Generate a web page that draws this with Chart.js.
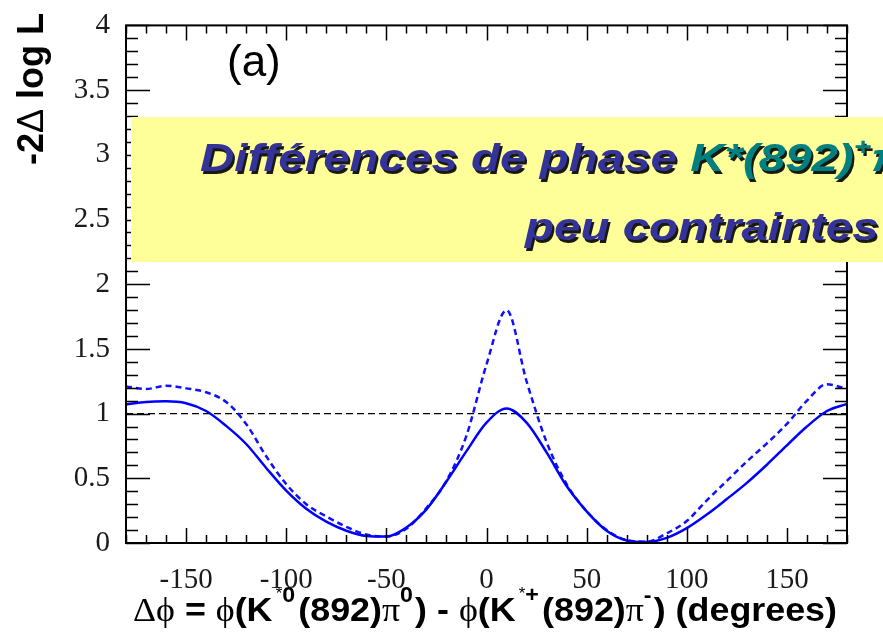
<!DOCTYPE html>
<html>
<head>
<meta charset="utf-8">
<script src="https://cdn.jsdelivr.net/npm/chart.js@4.4.0/dist/chart.umd.min.js"></script>
<style>
  body { margin: 0; background: #fff; }
  #wrap { position: relative; width: 883px; height: 633px; }
</style>
</head>
<body>
<div id="wrap"><canvas id="nllChart"></canvas></div>
<script>
// scan points in delta phi (degrees)
const phiDeg = [-180, -170, -160, -150, -140, -130, -120, -110, -100, -90, -80, -70, -60, -50, -40, -30, -20, -10,
  0, 10, 20, 30, 40, 50, 60, 70, 80, 90, 100, 110, 120, 130, 140, 150, 160, 170, 180];
// -2 delta log L, full curve (solid)
const solidVals = [1.07, 1.09, 1.095, 1.08, 1.02, 0.905, 0.765, 0.58, 0.405, 0.265, 0.165, 0.095, 0.055, 0.05, 0.12, 0.26, 0.475, 0.71,
  0.93, 1.04, 0.93, 0.70, 0.44, 0.245, 0.095, 0.02, 0.008, 0.04, 0.115, 0.22, 0.34, 0.465, 0.605, 0.755, 0.90, 1.02, 1.075];
// -2 delta log L, stat only (dashed)
const dashedVals = [1.21, 1.19, 1.215, 1.195, 1.165, 1.09, 0.92, 0.67, 0.455, 0.30, 0.205, 0.125, 0.065, 0.05, 0.11, 0.27, 0.48, 0.83,
  1.38, 1.80, 1.25, 0.78, 0.455, 0.245, 0.10, 0.022, 0.01, 0.075, 0.17, 0.33, 0.48, 0.63, 0.77, 0.92, 1.10, 1.227, 1.19];
// 1 sigma reference line
const refX = [-180, 180];
const refY = [1, 1];
const xLabelTicks = [-150, -100, -50, 0, 50, 100, 150];
const yLabelTicks = [0, 0.5, 1, 1.5, 2, 2.5, 3, 3.5, 4];

const toPts = (xs, ys) => xs.map((v, i) => ({ x: v, y: ys[i] }));

// draws a list of text pieces in a row, squeezed/stretched to a given width
function drawSegs(ctx, segs, x, y, width) {
  let total = 0;
  segs.forEach(s => { ctx.font = s.f; s.w = ctx.measureText(s.t).width + (s.gap || 0); total += s.w; });
  const sx = width ? width / total : 1;
  ctx.save();
  ctx.translate(x, y);
  ctx.scale(sx, 1);
  let cx = 0;
  segs.forEach(s => {
    ctx.font = s.f;
    ctx.fillStyle = s.c || '#000';
    ctx.fillText(s.t, cx, s.dy || 0);
    cx += s.w;
  });
  ctx.restore();
}

// ROOT style frame with inward ticks
const frameTicks = {
  id: 'frameTicks',
  afterDatasetsDraw(chart) {
    const { ctx, chartArea: a, scales: { x, y } } = chart;
    ctx.save();
    ctx.strokeStyle = '#000';
    ctx.lineWidth = 1.5;
    ctx.beginPath();
    for (let v = -180; v <= 180; v += 10) {
      const px = Math.round(x.getPixelForValue(v)) + 0.5;
      const len = v % 50 === 0 ? 15 : 8;
      ctx.moveTo(px, a.bottom); ctx.lineTo(px, a.bottom - len);
      ctx.moveTo(px, a.top); ctx.lineTo(px, a.top + len);
    }
    for (let i = 0; i <= 40; i++) {
      const py = Math.round(y.getPixelForValue(i / 10)) + 0.5;
      const len = i % 5 === 0 ? 24 : 12;
      ctx.moveTo(a.left, py); ctx.lineTo(a.left + len, py);
      ctx.moveTo(a.right, py); ctx.lineTo(a.right - len, py);
    }
    ctx.stroke();
    ctx.lineWidth = 2;
    ctx.strokeRect(a.left, a.top, a.right - a.left, a.bottom - a.top);
    ctx.restore();
  },
  afterDraw(chart) {
    const ctx = chart.ctx;
    ctx.save();
    ctx.textBaseline = 'alphabetic';
    ctx.textAlign = 'left';

    // panel tag
    ctx.font = '44px "Liberation Sans"';
    ctx.fillStyle = '#000';
    ctx.fillText('(a)', 227, 76);

    // y axis title
    ctx.save();
    ctx.translate(43, 165);
    ctx.rotate(-Math.PI / 2);
    drawSegs(ctx, [
      { t: '-2', f: 'bold 36px "Liberation Sans"' },
      { t: 'Δ', f: '36px "Liberation Sans"' },
      { t: ' log L', f: 'bold 36px "Liberation Sans"' }
    ], 0, 0, 152);
    ctx.restore();

    // x axis title
    const B = 'bold 34px "Liberation Sans"', G = '34px "Liberation Serif"';
    const S = 'bold 22px "Liberation Sans"', ST = '16px "Liberation Sans"';
    drawSegs(ctx, [
      { t: 'Δϕ', f: G }, { t: ' = ', f: B }, { t: 'ϕ', f: G }, { t: '(K', f: B, gap: 3 },
      { t: '*', f: ST, dy: -22 }, { t: '0', f: S, dy: -19, gap: 3 }, { t: '(892)', f: B },
      { t: 'π', f: G }, { t: '0', f: S, dy: -19, gap: 2 }, { t: ') - ', f: B },
      { t: 'ϕ', f: G }, { t: '(K', f: B, gap: 3 }, { t: '*', f: ST, dy: -22 }, { t: '+', f: S, dy: -19, gap: 3 },
      { t: '(892)', f: B }, { t: 'π', f: G }, { t: '-', f: S, dy: -19, gap: 2 }, { t: ') (degrees)', f: B }
    ], 133, 621, 704);

    // yellow banner
    ctx.fillStyle = '#ffff99';
    ctx.fillRect(131, 117, 760, 145);
    ctx.shadowColor = 'rgba(0,0,0,0.9)';
    ctx.shadowOffsetX = 2;
    ctx.shadowOffsetY = 2.5;
    const T = 'italic bold 38px "Liberation Sans"', TS = 'italic bold 24px "Liberation Sans"';
    const navy = '#333399', teal = '#008080';
    ctx.save();
    ctx.translate(200, 171);
    ctx.scale(1.25, 1);
    drawSegs(ctx, [
      { t: 'Différences de phase ', f: T, c: navy },
      { t: 'K*(892)', f: T, c: teal }, { t: '+', f: TS, c: teal, dy: -16 },
      { t: 'π', f: T, c: teal }, { t: '-', f: TS, c: teal, dy: -16 },
      { t: ' et K*(892)', f: T, c: navy }, { t: '0', f: TS, c: navy, dy: -16 },
      { t: 'π', f: T, c: navy }, { t: '0', f: TS, c: navy, dy: -16 }
    ], 0, 0);
    ctx.restore();
    ctx.save();
    ctx.translate(525, 240);
    ctx.scale(1.25, 1);
    drawSegs(ctx, [{ t: 'peu contraintes', f: T, c: navy }], 0, 0);
    ctx.restore();
    ctx.restore();
  }
};

new Chart(document.getElementById('nllChart'), {
  type: 'line',
  data: {
    datasets: [
      {
        label: 'total',
        data: toPts(phiDeg, solidVals),
        borderColor: '#0000ff',
        borderWidth: 2.5,
        pointRadius: 0,
        cubicInterpolationMode: 'monotone',
        order: 1
      },
      {
        label: 'stat',
        data: toPts(phiDeg, dashedVals),
        borderColor: '#1010ff',
        borderWidth: 2.5,
        borderDash: [6, 4],
        pointRadius: 0,
        cubicInterpolationMode: 'monotone',
        order: 2
      },
      {
        label: 'ref',
        data: toPts(refX, refY),
        borderColor: '#000',
        borderWidth: 1.2,
        borderDash: [7, 4],
        pointRadius: 0,
        order: 3
      }
    ]
  },
  options: {
    responsive: true,
    maintainAspectRatio: false,
    animation: false,
    layout: { padding: { top: 17, right: 36, left: 0, bottom: 0 } },
    plugins: { legend: { display: false }, tooltip: { enabled: false } },
    scales: {
      x: {
        type: 'linear',
        min: -180,
        max: 180,
        grid: { display: false },
        border: { display: false },
        afterFit: s => { s.height = 90; },
        afterBuildTicks: s => { s.ticks = xLabelTicks.map(v => ({ value: v })); },
        ticks: {
          autoSkip: false,
          maxRotation: 0,
          padding: 12,
          color: '#1a1a1a',
          font: { family: 'Liberation Serif', size: 29 },
          callback: v => String(v)
        }
      },
      y: {
        min: 0,
        max: 4,
        grid: { display: false },
        border: { display: false },
        afterFit: s => { s.width = 126; },
        afterBuildTicks: s => { s.ticks = yLabelTicks.map(v => ({ value: v })); },
        ticks: {
          autoSkip: false,
          padding: 8,
          color: '#1a1a1a',
          font: { family: 'Liberation Serif', size: 29 },
          callback: v => String(v)
        }
      }
    }
  },
  plugins: [frameTicks]
});
</script>
</body>
</html>
